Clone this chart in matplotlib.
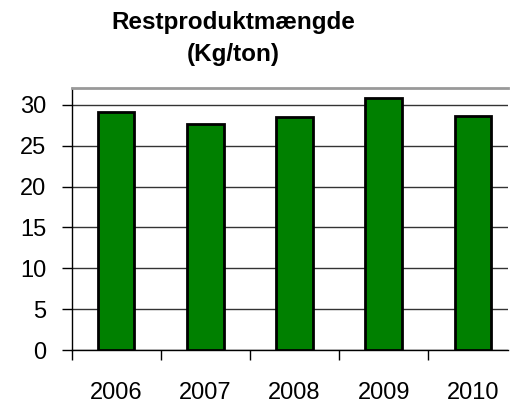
import numpy as np
import matplotlib
matplotlib.use("Agg")
import matplotlib.pyplot as plt

plt.rcParams['font.family'] = ['Liberation Sans', 'DejaVu Sans']

# ── data ──────────────────────────────────────
years = ["2006", "2007", "2008", "2009", "2010"]
values = [29.1, 27.6, 28.5, 30.8, 28.6]
yticks = [0, 5, 10, 15, 20, 25, 30]

fig = plt.figure(figsize=(5.19, 4.03), dpi=100)
ax = fig.add_axes([0.138, 0.1315, 0.840, 0.651])

x = np.arange(len(years))
ax.bar(x, values, width=0.41, color="#008000", edgecolor="black",
       linewidth=2.0, zorder=3)

ax.set_xlim(-0.5, 4.39)
ax.set_ylim(0, 32.1)
ax.set_yticks(yticks)
ax.set_yticklabels([str(v) for v in yticks], fontsize=17)
ax.yaxis.grid(True, color="#333333", linewidth=1.0, zorder=0)

# categories: labels in the middle, tick marks between them
ax.set_xticks(x)
ax.set_xticklabels(years, fontsize=17)
ax.tick_params(axis="x", which="major", length=0, pad=23)
ax.set_xticks(np.arange(-0.5, 4.0, 1.0), minor=True)
ax.tick_params(axis="x", which="minor", length=7, width=1.0, direction="out")
ax.tick_params(axis="y", length=7, width=1.0, pad=11)

ax.spines["right"].set_visible(False)
ax.spines["top"].set_color("#999999")
ax.spines["top"].set_linewidth(2)
ax.spines["left"].set_linewidth(1.0)
ax.spines["bottom"].set_linewidth(1.0)

fig.text(233 / 519, 1 - 22 / 403, "Restproduktmængde", ha="center",
         va="center", fontsize=17.5, fontweight="bold")
fig.text(233 / 519, 1 - 55 / 403, "(Kg/ton)", ha="center",
         va="center", fontsize=17.5, fontweight="bold")

plt.savefig("out.png", dpi=100)
